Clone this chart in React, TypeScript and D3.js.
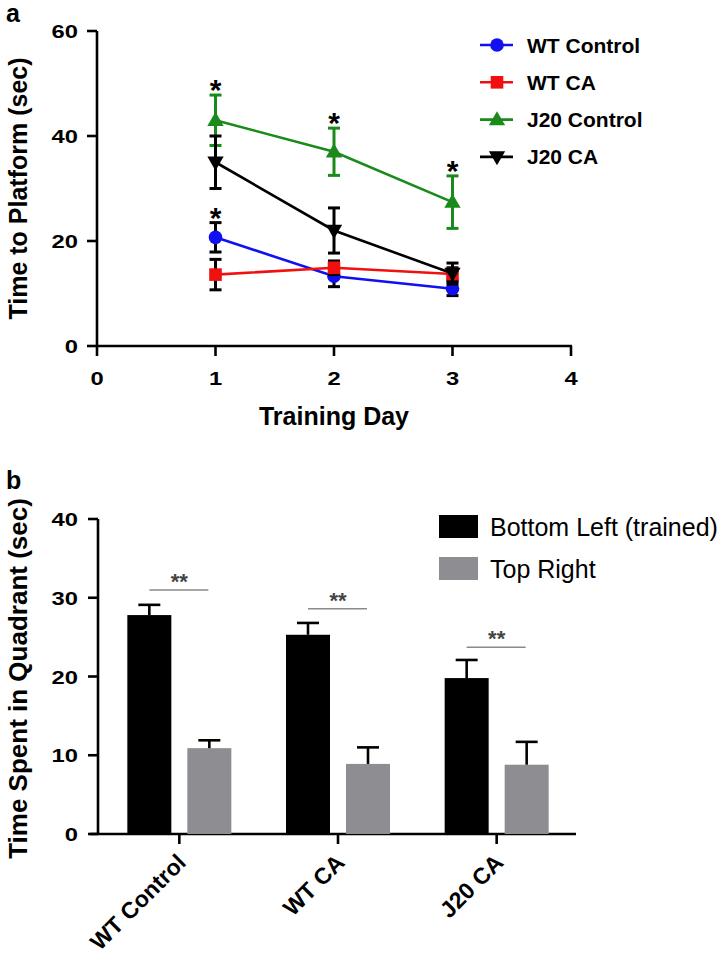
import React from "react";
import * as d3 from "d3";

// ---------- Panel a data ----------
const days = [1, 2, 3];
const xTicksA = [0, 1, 2, 3, 4];
const yTicksA = [0, 20, 40, 60];
const seriesNames = ["WT Control", "WT CA", "J20 Control", "J20 CA"];
const seriesColors = ["#1010f0", "#f01010", "#1a8a1a", "#000000"];
const errColors = ["#000000", "#000000", "#1a8a1a", "#000000"];
const seriesMarkers = ["circle", "square", "triUp", "triDown"];
const wtControl = [20.7, 13.3, 10.9];
const wtControlErr = [2.8, 2.0, 1.3];
const wtCA = [13.6, 14.9, 13.7];
const wtCAErr = [2.9, 1.3, 1.2];
const j20Control = [43.0, 37.0, 27.4];
const j20ControlErr = [4.8, 4.5, 5.0];
const j20CA = [35.0, 22.0, 13.8];
const j20CAErr = [5.0, 4.3, 2.0];
// significance asterisks: [series index, day index]
const starsA = [[2, 0], [0, 0], [2, 1], [2, 2]];

// ---------- Panel b data ----------
const groups = ["WT Control", "WT CA", "J20 CA"];
const barNames = ["Bottom Left (trained)", "Top Right"];
const barColors = ["#000000", "#8e8e92"];
const bottomLeft = [27.8, 25.3, 19.8];
const bottomLeftErr = [1.3, 1.5, 2.3];
const topRight = [10.9, 8.9, 8.8];
const topRightErr = [1.0, 2.1, 2.9];
const sigLevelB = [31.0, 28.6, 23.7];
const yTicksB = [0, 10, 20, 30, 40];

const FONT = "'Liberation Sans', Arial, Helvetica, sans-serif";

function Marker({ type, x, y, color }: { type: string; x: number; y: number; color: string }) {
  if (type === "circle") return <circle cx={x} cy={y} r={6.8} fill={color} />;
  if (type === "square") return <rect x={x - 6.3} y={y - 6.3} width={12.6} height={12.6} fill={color} />;
  const s = d3.symbol().type(d3.symbolTriangle).size(115)();
  return (
    <path
      d={s as string}
      transform={`translate(${x},${y + (type === "triDown" ? -1 : 1)}) rotate(${type === "triDown" ? 180 : 0})`}
      fill={color}
    />
  );
}

// tick label, slightly stretched horizontally like the reference
function Tick({ x, y, anchor, children }: { x: number; y: number; anchor: string; children: React.ReactNode }) {
  return (
    <text transform={`translate(${x},${y}) scale(1.25,1)`} fontSize={19} fontWeight="bold" textAnchor={anchor}>
      {children}
    </text>
  );
}

export default function App() {
  const values = [wtControl, wtCA, j20Control, j20CA];
  const errs = [wtControlErr, wtCAErr, j20ControlErr, j20CAErr];

  // Panel a scales
  const xA = d3.scaleLinear().domain([0, 4]).range([97, 571]);
  const yA = d3.scaleLinear().domain([0, 60]).range([346, 31]);
  const line = d3
    .line<number>()
    .x((_, i) => xA(days[i]))
    .y((d) => yA(d));

  // Panel b scales
  const xB = d3.scaleBand<string>().domain(groups).range([100, 576]);
  const yB = d3.scaleLinear().domain([0, 40]).range([834, 519]);
  const barW = 44;
  const barOff = 30;
  const capA = 10;

  return (
    <svg width={722} height={964} style={{ position: "absolute", left: 0, top: 0, background: "#fff" }} fontFamily={FONT}>
      <rect x={0} y={0} width={722} height={964} fill="#fff" />
      {/* ===== Panel a ===== */}
      <text x={6} y={22} fontSize={25} fontWeight="bold">a</text>
      {/* axes */}
      <line x1={xA(0)} x2={xA(0)} y1={yA(60)} y2={yA(0) + 1} stroke="#000" strokeWidth={2.6} />
      <line x1={xA(0) - 1} x2={xA(4) + 1} y1={yA(0)} y2={yA(0)} stroke="#000" strokeWidth={2.6} />
      {yTicksA.map((t) => (
        <g key={"ya" + t}>
          <line x1={xA(0) - 10} x2={xA(0)} y1={yA(t)} y2={yA(t)} stroke="#000" strokeWidth={2.6} />
          <Tick x={78} y={yA(t) + 7} anchor="end">{t}</Tick>
        </g>
      ))}
      {xTicksA.map((t) => (
        <g key={"xa" + t}>
          <line x1={xA(t)} x2={xA(t)} y1={yA(0)} y2={yA(0) + 10} stroke="#000" strokeWidth={2.6} />
          <Tick x={xA(t)} y={385} anchor="middle">{t}</Tick>
        </g>
      ))}
      <text x={334} y={425} fontSize={25} fontWeight="bold" textAnchor="middle">Training Day</text>
      <text transform={`translate(27,${(yA(0) + yA(60)) / 2}) rotate(-90)`} fontSize={25} fontWeight="bold" textAnchor="middle">
        Time to Platform (sec)
      </text>
      {/* series */}
      {values.map((vals, si) => (
        <g key={"s" + si}>
          <path d={line(vals) as string} fill="none" stroke={seriesColors[si]} strokeWidth={2.6} />
          {vals.map((v, i) => {
            const x = xA(days[i]);
            const e = errs[si][i];
            return (
              <g key={i} stroke={errColors[si]} strokeWidth={3}>
                <line x1={x} x2={x} y1={yA(v + e)} y2={yA(v - e)} />
                <line x1={x - capA / 2 - 1} x2={x + capA / 2 + 1} y1={yA(v + e)} y2={yA(v + e)} />
                <line x1={x - capA / 2 - 1} x2={x + capA / 2 + 1} y1={yA(v - e)} y2={yA(v - e)} />
              </g>
            );
          })}
          {vals.map((v, i) => (
            <Marker key={"m" + i} type={seriesMarkers[si]} x={xA(days[i])} y={yA(v)} color={seriesColors[si]} />
          ))}
        </g>
      ))}
      {starsA.map(([si, di], k) => (
        <text key={"st" + k} x={xA(days[di])} y={yA(values[si][di] + errs[si][di]) + 5} fontSize={30} fontWeight="bold" textAnchor="middle">*</text>
      ))}
      {/* legend a */}
      {seriesNames.map((n, i) => {
        const y = 45 + i * 37.3;
        return (
          <g key={"la" + i}>
            <line x1={480} x2={513} y1={y} y2={y} stroke={seriesColors[i]} strokeWidth={2.6} />
            <Marker type={seriesMarkers[i]} x={497} y={y} color={seriesColors[i]} />
            <text x={527} y={y + 7.5} fontSize={21} fontWeight="bold">{n}</text>
          </g>
        );
      })}

      {/* ===== Panel b ===== */}
      <text x={6} y={489} fontSize={25} fontWeight="bold">b</text>
      <line x1={98} x2={98} y1={yB(40)} y2={yB(0) + 1} stroke="#000" strokeWidth={2.6} />
      <line x1={90} x2={576} y1={yB(0)} y2={yB(0)} stroke="#000" strokeWidth={2.6} />
      {yTicksB.map((t) => (
        <g key={"yb" + t}>
          <line x1={88} x2={98} y1={yB(t)} y2={yB(t)} stroke="#000" strokeWidth={2.6} />
          <Tick x={78} y={yB(t) + 7} anchor="end">{t}</Tick>
        </g>
      ))}
      <text transform={`translate(27,${(yB(0) + yB(40)) / 2 + 2}) rotate(-90)`} fontSize={26} fontWeight="bold" textAnchor="middle">
        Time Spent in Quadrant (sec)
      </text>
      {groups.map((g, gi) => {
        const cx = (xB(g) as number) + xB.bandwidth() / 2;
        const bars = [
          [bottomLeft[gi], bottomLeftErr[gi]],
          [topRight[gi], topRightErr[gi]],
        ];
        return (
          <g key={"g" + gi}>
            <line x1={cx} x2={cx} y1={yB(0)} y2={yB(0) + 10} stroke="#000" strokeWidth={2.6} />
            {bars.map(([v, e], bi) => {
              const bx = cx + (bi === 0 ? -barOff : barOff);
              return (
                <g key={bi}>
                  <rect x={bx - barW / 2} y={yB(v)} width={barW} height={yB(0) - yB(v)} fill={barColors[bi]} />
                  <line x1={bx} x2={bx} y1={yB(v)} y2={yB(v + e)} stroke="#000" strokeWidth={2.6} />
                  <line x1={bx - 11} x2={bx + 11} y1={yB(v + e)} y2={yB(v + e)} stroke="#000" strokeWidth={2.6} />
                </g>
              );
            })}
            <line x1={cx - 30} x2={cx + 29} y1={yB(sigLevelB[gi])} y2={yB(sigLevelB[gi])} stroke="#8a8a8a" strokeWidth={1.5} />
            <text x={cx} y={yB(sigLevelB[gi]) - 1} fontSize={22} fontWeight="bold" fill="#444" textAnchor="middle">**</text>
            <text transform={`translate(${cx + 8},${yB(0) + 30}) rotate(-45)`} fontSize={23} fontWeight="bold" textAnchor="end">
              {g}
            </text>
          </g>
        );
      })}
      {/* legend b */}
      {barNames.map((n, i) => (
        <g key={"lb" + i}>
          <rect x={439} y={515 + i * 42} width={39} height={23} fill={barColors[i]} />
          <text x={490} y={536 + i * 42} fontSize={25}>{n}</text>
        </g>
      ))}
    </svg>
  );
}
